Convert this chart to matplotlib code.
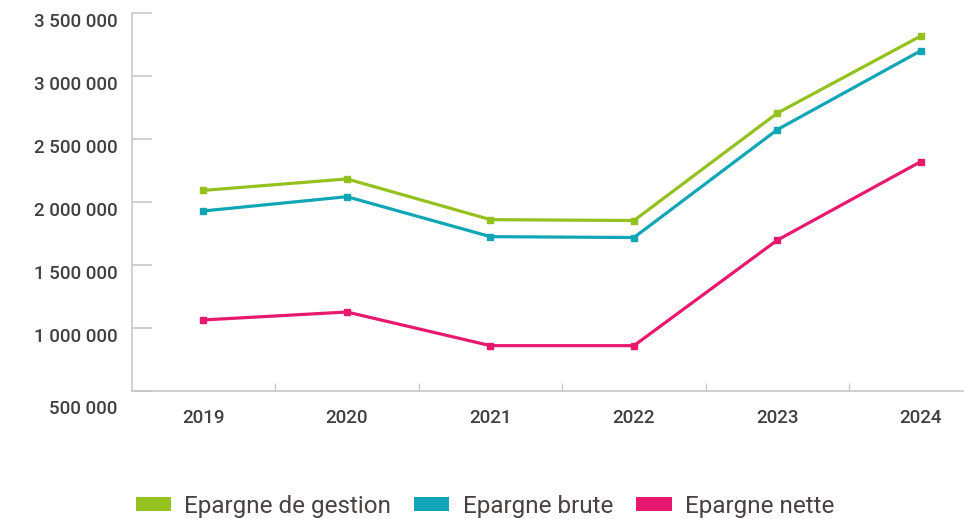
import numpy as np
import matplotlib
matplotlib.use("Agg")
import matplotlib.pyplot as plt
from matplotlib.patches import Patch
from matplotlib.transforms import ScaledTranslation

#
# Data
#
years = ["2019", "2020", "2021", "2022", "2023", "2024"]
epargne_gestion = [2092000, 2183000, 1860000, 1853000, 2706000, 3318000]
epargne_brute = [1929000, 2042000, 1725000, 1718000, 2575000, 3201000]
epargne_nette = [1064000, 1127000, 860000, 860000, 1698000, 2321000]

series_names = ["Epargne de gestion", "Epargne brute", "Epargne nette"]
colours = ["#95c11f", "#10a6b6", "#e7196f"]

yticks = [500000, 1000000, 1500000, 2000000, 2500000, 3000000, 3500000]

plt.rcParams['font.family'] = ['Roboto', 'DejaVu Sans']

fig = plt.figure(figsize=(9.64, 5.19), dpi=100)
ax = fig.add_axes([0.1366, 0.2466, 1.0 - 0.1366, 0.975 - 0.2466])

x = np.arange(len(years))
for vals, c in zip([epargne_gestion, epargne_brute, epargne_nette], colours):
    ax.plot(x, vals, color=c, lw=2.3, marker="s", ms=4.5, solid_joinstyle="round")

ax.set_xlim(-0.5, 5.30)
ax.set_ylim(500000, 3500000)

#
# Axes style
#
for s in ["top", "right"]:
    ax.spines[s].set_visible(False)
for s in ["left", "bottom"]:
    ax.spines[s].set_color("#c8c8c8")
    ax.spines[s].set_linewidth(1.2)

ax.set_yticks(yticks)
ax.set_yticklabels([f"{v:,}".replace(",", " ") for v in yticks], fontweight="medium")
ax.tick_params(axis="y", direction="in", length=14.5, width=1.2, color="#c8c8c8",
               pad=10, labelsize=13.5, labelcolor="#404040")

ax.set_xticks(x)
ax.set_xticklabels(years, fontweight="medium")
ax.set_xticks(x[:-1] + 0.5, minor=True)
ax.tick_params(axis="x", which="major", length=0, pad=13, labelsize=13.5, labelcolor="#404040")
ax.tick_params(axis="x", which="minor", direction="in", length=6, width=1.0, color="#c8c8c8")

# y labels sit a bit below their ticks
for i, lab in enumerate(ax.get_yticklabels()):
    dy = -16 if i == 0 else -7
    lab.set_transform(lab.get_transform() + ScaledTranslation(0, dy / 100, fig.dpi_scale_trans))

#
# Legend
#
handles = [Patch(facecolor=c, edgecolor="none") for c in colours]
fig.legend(handles, series_names, loc="center", bbox_to_anchor=(0.503, 0.025),
           ncol=3, frameon=False, fontsize=17.5, labelcolor="#4a4242",
           handlelength=1.45, handleheight=0.5, handletextpad=0.55, columnspacing=0.95,
           borderaxespad=0, borderpad=0)

fig.savefig("out.png", dpi=100)
